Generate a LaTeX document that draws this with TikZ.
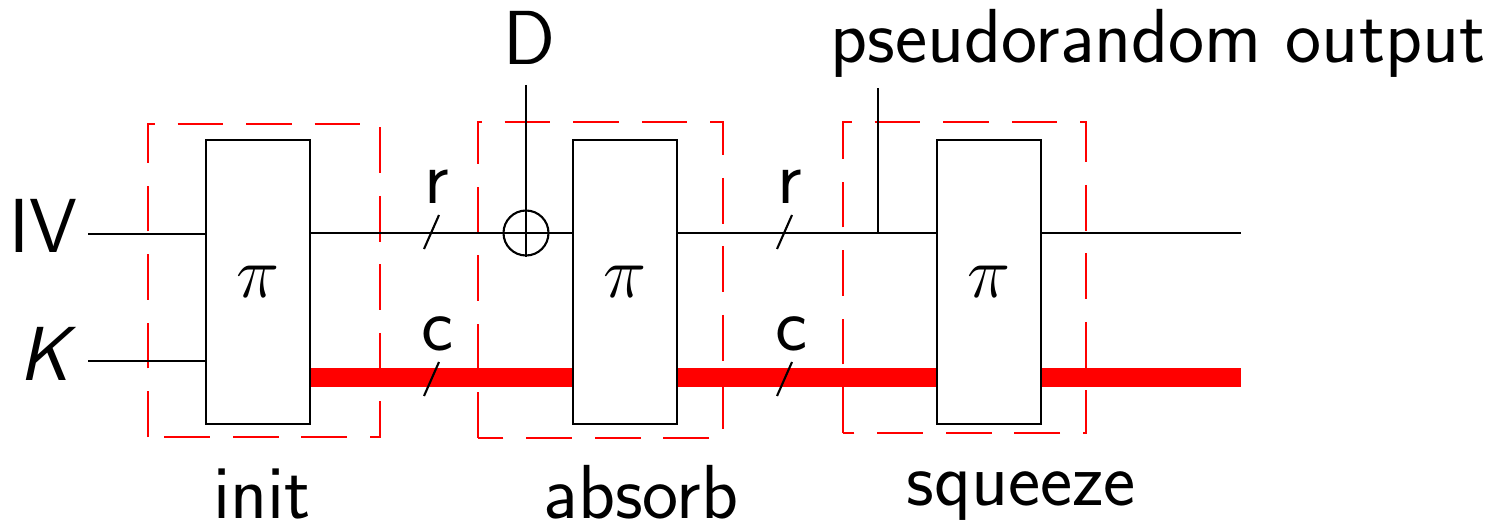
\documentclass[tikz,border=0pt]{standalone}
\usepackage{fontspec}
\usetikzlibrary{calc,positioning}
\definecolor{SpongeInk}{HTML}{000000}
\definecolor{SpongeRed}{HTML}{FF0000}
\tikzset{
  every node/.style={font=\sffamily\fontsize{21.8}{26}\selectfont, text=SpongeInk},
  perm/.style={draw=SpongeInk, line width=0.7pt, fill=white, minimum width=1.04cm, minimum height=2.84cm, inner sep=0pt},
  wire/.style={draw=SpongeInk, line width=0.6pt},
  capwire/.style={draw=SpongeRed, line width=5.4pt},
  phase/.style={draw=SpongeRed, line width=0.8pt, dash pattern=on 13pt off 6.5pt},
  xorgate/.style={circle, draw=SpongeInk, line width=0.6pt, minimum size=0.45cm, inner sep=0pt},
  label/.style={anchor=base, inner sep=0pt},
}

\begin{document}
\begin{tikzpicture}[x=1cm,y=1cm]
  \useasboundingbox (0,0) rectangle (14.96,5.28);

  % Phases: dashed frames behind everything
  \draw[phase] (1.48,0.91) rectangle (3.80,4.04);
  \draw[phase] (4.78,0.90) rectangle (7.23,4.06);
  \draw[phase] (8.43,0.95) rectangle (10.86,4.06);

  % Permutations
  \node[perm] (pi1) at (2.58,2.46) {$\pi$};
  \node[perm] (pi2) at (6.25,2.46) {$\pi$};
  \node[perm] (pi3) at (9.89,2.46) {$\pi$};

  % Inputs
  \node[anchor=base east, inner sep=0pt] (iv) at (0.78,2.75) {IV};
  \node[anchor=base east, inner sep=0pt] (key) at (0.70,1.48) {\itshape K};
  \coordinate (ivin) at (0.88,2.94);
  \coordinate (keyin) at (0.88,1.67);
  \draw[wire] (ivin) -- (ivin -| pi1.west);
  \draw[wire] (keyin) -- (keyin -| pi1.west);

  % Rate wire with message injection
  \node[xorgate] (xor) at (5.26,2.95) {};
  \coordinate (rate) at (3.10,2.95);
  \coordinate (rateend) at (12.41,2.95);
  \draw[wire] (rate -| pi1.east) -- (rate -| pi2.west);
  \draw[wire] (rate -| pi2.east) -- (rate -| pi3.west);
  \draw[wire] (rate -| pi3.east) -- (rateend);
  \node[label] (msg) at (5.29,4.63) {D};
  \coordinate (msgin) at (5.26,4.43);
  \draw[wire] (msgin) -- (xor.south);

  % Output tap
  \node[label] (out) at (11.58,4.65) {pseudorandom output};
  \coordinate (tap) at (8.78,2.95);
  \coordinate (tapend) at (8.78,4.40);
  \draw[wire] (tap) -- (tapend);

  % Capacity wire
  \coordinate (cap) at (3.10,1.505);
  \coordinate (capend) at (12.41,1.505);
  \draw[capwire] (cap -| pi1.east) -- (cap -| pi2.west);
  \draw[capwire] (cap -| pi2.east) -- (cap -| pi3.west);
  \draw[capwire] (cap -| pi3.east) -- (capend);

  % Width marks
  \draw[wire] (4.24,2.79) -- (4.39,3.13);
  \draw[wire] (4.24,1.32) -- (4.39,1.66);
  \draw[wire] (7.77,2.79) -- (7.92,3.13);
  \draw[wire] (7.77,1.32) -- (7.92,1.66);
  \node[label] (r1) at (4.37,3.25) {r};
  \node[label] (c1) at (4.38,1.78) {c};
  \node[label] (r2) at (7.90,3.25) {r};
  \node[label] (c2) at (7.91,1.78) {c};

  % Phase names
  \node[label] (init) at (2.62,0.10) {init};
  \node[label] (absorb) at (6.41,0.10) {absorb};
  \node[label] (squeeze) at (10.21,0.23) {squeeze};
\end{tikzpicture}
\end{document}
